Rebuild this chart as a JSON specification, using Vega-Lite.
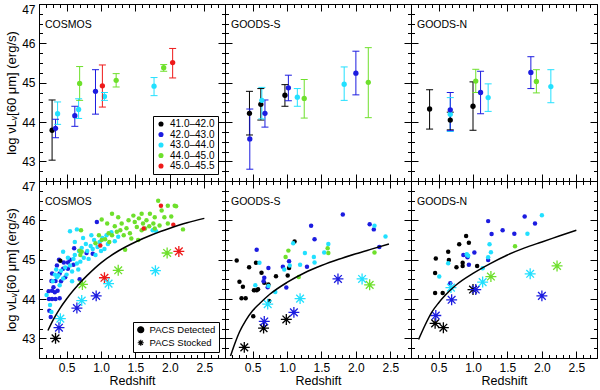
{
"$schema":"https://vega.github.io/schema/vega-lite/v6.json",
"padding":{"left":5,"top":2,"right":2,"bottom":0},
"config":{"font":"Liberation Sans","view":{"stroke":"black","strokeWidth":1},
 "title":{"fontWeight":400,"fontSize":10.5,"color":"black","font":"Liberation Sans"},
 "axis":{"tickSize":-7,"tickColor":"black","tickWidth":1,"domainColor":"black","grid":false,"labelFontSize":12,"labelColor":"black","labelPadding":11,"labelOverlap":false,"labelBound":false,"titleFontWeight":400,"titleFontSize":12.5,"titleColor":"black","titlePadding":1,"labelFont":"Liberation Sans","titleFont":"Liberation Sans"},
 "axisLeft":{"titleFontSize":13,"titlePadding":3},
 "legend":{"labelFont":"Liberation Sans","labelColor":"black"}},
"datasets":{
"top":[
{"p":"COSMOS","b":"41.0–42.0","z":0.29,"y":43.79,"lo":43.03,"hi":44.56},
{"p":"COSMOS","b":"42.0–43.0","z":0.34,"y":43.84,"lo":43.6,"hi":44.07},
{"p":"COSMOS","b":"43.0–44.0","z":0.37,"y":44.21,"lo":43.94,"hi":44.51},
{"p":"COSMOS","b":"42.0–43.0","z":0.62,"y":44.16,"lo":43.89,"hi":44.4},
{"p":"COSMOS","b":"43.0–44.0","z":0.675,"y":44.32,"lo":44.09,"hi":44.59},
{"p":"COSMOS","b":"44.0–45.0","z":0.69,"y":44.98,"lo":44.55,"hi":45.41},
{"p":"COSMOS","b":"42.0–43.0","z":0.92,"y":44.78,"lo":44.2,"hi":45.33},
{"p":"COSMOS","b":"45.0–45.5","z":1.02,"y":44.92,"lo":44.38,"hi":45.45},
{"p":"COSMOS","b":"43.0–44.0","z":1.05,"y":44.65,"lo":44.55,"hi":44.75},
{"p":"COSMOS","b":"44.0–45.0","z":1.22,"y":45.06,"lo":44.89,"hi":45.23},
{"p":"COSMOS","b":"43.0–44.0","z":1.77,"y":44.91,"lo":44.67,"hi":45.13},
{"p":"COSMOS","b":"44.0–45.0","z":1.91,"y":45.38,"lo":45.29,"hi":45.46},
{"p":"COSMOS","b":"45.0–45.5","z":2.04,"y":45.51,"lo":45.12,"hi":45.87},
{"p":"GOODS-S","b":"41.0–42.0","z":0.455,"y":44.22,"lo":43.67,"hi":44.78},
{"p":"GOODS-S","b":"42.0–43.0","z":0.46,"y":43.57,"lo":42.8,"hi":44.33},
{"p":"GOODS-S","b":"41.0–42.0","z":0.62,"y":44.45,"lo":44.05,"hi":44.85},
{"p":"GOODS-S","b":"43.0–44.0","z":0.635,"y":44.55,"lo":44.08,"hi":44.88},
{"p":"GOODS-S","b":"42.0–43.0","z":0.68,"y":44.22,"lo":43.87,"hi":44.56},
{"p":"GOODS-S","b":"41.0–42.0","z":0.97,"y":44.68,"lo":44.4,"hi":44.95},
{"p":"GOODS-S","b":"42.0–43.0","z":1.02,"y":44.87,"lo":44.54,"hi":45.19},
{"p":"GOODS-S","b":"43.0–44.0","z":1.15,"y":44.63,"lo":44.4,"hi":44.85},
{"p":"GOODS-S","b":"44.0–45.0","z":1.25,"y":44.6,"lo":44.1,"hi":45.08},
{"p":"GOODS-S","b":"43.0–44.0","z":1.83,"y":44.96,"lo":44.55,"hi":45.4},
{"p":"GOODS-S","b":"42.0–43.0","z":2.0,"y":45.24,"lo":44.69,"hi":45.8},
{"p":"GOODS-S","b":"44.0–45.0","z":2.18,"y":45.01,"lo":44.11,"hi":45.89},
{"p":"GOODS-N","b":"41.0–42.0","z":0.37,"y":44.33,"lo":43.82,"hi":44.82},
{"p":"GOODS-N","b":"41.0–42.0","z":0.67,"y":44.05,"lo":43.8,"hi":44.25},
{"p":"GOODS-N","b":"43.0–44.0","z":0.67,"y":44.2,"lo":43.76,"hi":44.62},
{"p":"GOODS-N","b":"42.0–43.0","z":0.67,"y":44.31,"lo":43.78,"hi":44.75},
{"p":"GOODS-N","b":"41.0–42.0","z":1.0,"y":44.4,"lo":43.79,"hi":45.02},
{"p":"GOODS-N","b":"44.0–45.0","z":1.04,"y":45.04,"lo":44.75,"hi":45.34},
{"p":"GOODS-N","b":"42.0–43.0","z":1.11,"y":44.75,"lo":44.21,"hi":45.29},
{"p":"GOODS-N","b":"43.0–44.0","z":1.22,"y":44.62,"lo":44.27,"hi":44.97},
{"p":"GOODS-N","b":"42.0–43.0","z":1.84,"y":45.26,"lo":44.85,"hi":45.66},
{"p":"GOODS-N","b":"44.0–45.0","z":1.92,"y":45.03,"lo":44.74,"hi":45.33},
{"p":"GOODS-N","b":"43.0–44.0","z":2.13,"y":44.9,"lo":44.49,"hi":45.33}
],
"det":[
{"p":"COSMOS","b":"42.0–43.0","z":0.27,"y":43.54},{"p":"COSMOS","b":"42.0–43.0","z":0.245,"y":44.0},{"p":"COSMOS","b":"42.0–43.0","z":0.29,"y":44.0},{"p":"COSMOS","b":"42.0–43.0","z":0.34,"y":44.0},{"p":"COSMOS","b":"42.0–43.0","z":0.4,"y":44.02},{"p":"COSMOS","b":"42.0–43.0","z":0.29,"y":44.21},{"p":"COSMOS","b":"42.0–43.0","z":0.33,"y":44.17},{"p":"COSMOS","b":"42.0–43.0","z":0.37,"y":44.21},{"p":"COSMOS","b":"42.0–43.0","z":0.28,"y":44.46},{"p":"COSMOS","b":"42.0–43.0","z":0.34,"y":44.46},{"p":"COSMOS","b":"42.0–43.0","z":0.29,"y":44.65},{"p":"COSMOS","b":"42.0–43.0","z":0.4,"y":44.65},{"p":"COSMOS","b":"42.0–43.0","z":0.45,"y":44.77},{"p":"COSMOS","b":"42.0–43.0","z":0.52,"y":44.77},{"p":"COSMOS","b":"42.0–43.0","z":0.39,"y":45.0},{"p":"COSMOS","b":"42.0–43.0","z":0.46,"y":44.93},{"p":"COSMOS","b":"42.0–43.0","z":0.52,"y":44.93},{"p":"COSMOS","b":"42.0–43.0","z":0.6,"y":44.87},{"p":"COSMOS","b":"42.0–43.0","z":0.69,"y":44.5},{"p":"COSMOS","b":"42.0–43.0","z":0.79,"y":45.17},{"p":"COSMOS","b":"42.0–43.0","z":0.88,"y":45.15},{"p":"COSMOS","b":"42.0–43.0","z":0.94,"y":45.96},{"p":"COSMOS","b":"42.0–43.0","z":0.61,"y":45.29},{"p":"COSMOS","b":"42.0–43.0","z":0.24,"y":44.2},{"p":"COSMOS","b":"42.0–43.0","z":0.31,"y":44.3},{"p":"COSMOS","b":"42.0–43.0","z":0.36,"y":44.85},{"p":"COSMOS","b":"42.0–43.0","z":0.42,"y":44.45},{"p":"COSMOS","b":"42.0–43.0","z":0.25,"y":43.7},{"p":"COSMOS","b":"42.0–43.0","z":0.55,"y":45.0},{"p":"COSMOS","b":"42.0–43.0","z":0.48,"y":44.55},
{"p":"COSMOS","b":"43.0–44.0","z":0.28,"y":43.67},{"p":"COSMOS","b":"43.0–44.0","z":0.26,"y":43.85},{"p":"COSMOS","b":"43.0–44.0","z":0.21,"y":44.1},{"p":"COSMOS","b":"43.0–44.0","z":0.33,"y":44.62},{"p":"COSMOS","b":"43.0–44.0","z":0.36,"y":44.55},{"p":"COSMOS","b":"43.0–44.0","z":0.38,"y":44.6},{"p":"COSMOS","b":"43.0–44.0","z":0.42,"y":44.72},{"p":"COSMOS","b":"43.0–44.0","z":0.45,"y":44.52},{"p":"COSMOS","b":"43.0–44.0","z":0.48,"y":44.8},{"p":"COSMOS","b":"43.0–44.0","z":0.5,"y":44.62},{"p":"COSMOS","b":"43.0–44.0","z":0.52,"y":45.05},{"p":"COSMOS","b":"43.0–44.0","z":0.55,"y":44.85},{"p":"COSMOS","b":"43.0–44.0","z":0.58,"y":44.7},{"p":"COSMOS","b":"43.0–44.0","z":0.6,"y":45.02},{"p":"COSMOS","b":"43.0–44.0","z":0.62,"y":45.12},{"p":"COSMOS","b":"43.0–44.0","z":0.65,"y":44.9},{"p":"COSMOS","b":"43.0–44.0","z":0.67,"y":44.75},{"p":"COSMOS","b":"43.0–44.0","z":0.68,"y":45.22},{"p":"COSMOS","b":"43.0–44.0","z":0.7,"y":44.95},{"p":"COSMOS","b":"43.0–44.0","z":0.72,"y":45.3},{"p":"COSMOS","b":"43.0–44.0","z":0.75,"y":45.05},{"p":"COSMOS","b":"43.0–44.0","z":0.78,"y":45.4},{"p":"COSMOS","b":"43.0–44.0","z":0.8,"y":45.22},{"p":"COSMOS","b":"43.0–44.0","z":0.82,"y":45.02},{"p":"COSMOS","b":"43.0–44.0","z":0.85,"y":45.35},{"p":"COSMOS","b":"43.0–44.0","z":0.88,"y":45.27},{"p":"COSMOS","b":"43.0–44.0","z":0.9,"y":45.5},{"p":"COSMOS","b":"43.0–44.0","z":0.92,"y":45.12},{"p":"COSMOS","b":"43.0–44.0","z":0.95,"y":45.32},{"p":"COSMOS","b":"43.0–44.0","z":0.98,"y":45.45},{"p":"COSMOS","b":"43.0–44.0","z":1.0,"y":45.22},{"p":"COSMOS","b":"43.0–44.0","z":1.02,"y":45.55},{"p":"COSMOS","b":"43.0–44.0","z":1.05,"y":45.27},{"p":"COSMOS","b":"43.0–44.0","z":1.08,"y":45.62},{"p":"COSMOS","b":"43.0–44.0","z":1.1,"y":45.4},{"p":"COSMOS","b":"43.0–44.0","z":1.15,"y":45.7},{"p":"COSMOS","b":"43.0–44.0","z":1.2,"y":45.47},{"p":"COSMOS","b":"43.0–44.0","z":0.55,"y":45.72},{"p":"COSMOS","b":"43.0–44.0","z":0.65,"y":45.77},{"p":"COSMOS","b":"43.0–44.0","z":0.3,"y":44.45},{"p":"COSMOS","b":"43.0–44.0","z":1.75,"y":45.75},{"p":"COSMOS","b":"43.0–44.0","z":1.8,"y":45.72},{"p":"COSMOS","b":"43.0–44.0","z":0.4,"y":44.35},{"p":"COSMOS","b":"43.0–44.0","z":0.58,"y":44.45},{"p":"COSMOS","b":"43.0–44.0","z":0.45,"y":45.2},{"p":"COSMOS","b":"43.0–44.0","z":0.62,"y":45.45},{"p":"COSMOS","b":"43.0–44.0","z":0.74,"y":45.55},{"p":"COSMOS","b":"43.0–44.0","z":0.86,"y":45.62},{"p":"COSMOS","b":"43.0–44.0","z":1.25,"y":45.58},{"p":"COSMOS","b":"43.0–44.0","z":0.35,"y":44.75},
{"p":"COSMOS","b":"44.0–45.0","z":0.71,"y":45.75},{"p":"COSMOS","b":"44.0–45.0","z":0.69,"y":45.23},{"p":"COSMOS","b":"44.0–45.0","z":0.72,"y":45.2},{"p":"COSMOS","b":"44.0–45.0","z":0.7,"y":45.12},{"p":"COSMOS","b":"44.0–45.0","z":1.01,"y":46.02},{"p":"COSMOS","b":"44.0–45.0","z":1.06,"y":45.52},{"p":"COSMOS","b":"44.0–45.0","z":1.11,"y":45.67},{"p":"COSMOS","b":"44.0–45.0","z":1.16,"y":45.62},{"p":"COSMOS","b":"44.0–45.0","z":1.23,"y":45.71},{"p":"COSMOS","b":"44.0–45.0","z":1.28,"y":45.75},{"p":"COSMOS","b":"44.0–45.0","z":1.3,"y":45.92},{"p":"COSMOS","b":"44.0–45.0","z":1.33,"y":45.62},{"p":"COSMOS","b":"44.0–45.0","z":1.35,"y":45.25},{"p":"COSMOS","b":"44.0–45.0","z":1.4,"y":46.0},{"p":"COSMOS","b":"44.0–45.0","z":1.42,"y":45.67},{"p":"COSMOS","b":"44.0–45.0","z":1.47,"y":46.12},{"p":"COSMOS","b":"44.0–45.0","z":1.49,"y":45.96},{"p":"COSMOS","b":"44.0–45.0","z":1.52,"y":45.83},{"p":"COSMOS","b":"44.0–45.0","z":1.54,"y":45.5},{"p":"COSMOS","b":"44.0–45.0","z":1.59,"y":46.17},{"p":"COSMOS","b":"44.0–45.0","z":1.61,"y":45.92},{"p":"COSMOS","b":"44.0–45.0","z":1.64,"y":45.79},{"p":"COSMOS","b":"44.0–45.0","z":1.66,"y":46.0},{"p":"COSMOS","b":"44.0–45.0","z":1.71,"y":46.17},{"p":"COSMOS","b":"44.0–45.0","z":1.76,"y":45.92},{"p":"COSMOS","b":"44.0–45.0","z":1.78,"y":45.79},{"p":"COSMOS","b":"44.0–45.0","z":1.83,"y":46.5},{"p":"COSMOS","b":"44.0–45.0","z":1.88,"y":46.25},{"p":"COSMOS","b":"44.0–45.0","z":1.92,"y":46.08},{"p":"COSMOS","b":"44.0–45.0","z":1.97,"y":46.37},{"p":"COSMOS","b":"44.0–45.0","z":2.07,"y":46.37},{"p":"COSMOS","b":"44.0–45.0","z":2.09,"y":46.36},{"p":"COSMOS","b":"44.0–45.0","z":2.19,"y":45.77},{"p":"COSMOS","b":"44.0–45.0","z":1.16,"y":46.17},{"p":"COSMOS","b":"44.0–45.0","z":1.25,"y":46.08},{"p":"COSMOS","b":"44.0–45.0","z":0.97,"y":45.62},{"p":"COSMOS","b":"44.0–45.0","z":1.01,"y":45.5},{"p":"COSMOS","b":"44.0–45.0","z":0.92,"y":45.42},{"p":"COSMOS","b":"44.0–45.0","z":1.09,"y":45.92},{"p":"COSMOS","b":"44.0–45.0","z":1.59,"y":45.75},{"p":"COSMOS","b":"44.0–45.0","z":1.44,"y":45.54},{"p":"COSMOS","b":"44.0–45.0","z":1.78,"y":46.08},{"p":"COSMOS","b":"44.0–45.0","z":1.85,"y":45.87},{"p":"COSMOS","b":"44.0–45.0","z":1.97,"y":45.92},{"p":"COSMOS","b":"44.0–45.0","z":1.2,"y":45.85},{"p":"COSMOS","b":"44.0–45.0","z":1.37,"y":45.8},{"p":"COSMOS","b":"44.0–45.0","z":1.55,"y":46.05},{"p":"COSMOS","b":"44.0–45.0","z":1.7,"y":45.85},{"p":"COSMOS","b":"44.0–45.0","z":2.02,"y":46.1},{"p":"COSMOS","b":"44.0–45.0","z":1.12,"y":45.45},
{"p":"COSMOS","b":"45.0–45.5","z":0.99,"y":45.36},{"p":"COSMOS","b":"45.0–45.5","z":1.62,"y":45.79},{"p":"COSMOS","b":"45.0–45.5","z":1.87,"y":46.37},{"p":"COSMOS","b":"45.0–45.5","z":2.05,"y":45.89},
{"p":"COSMOS","b":"41.0–42.0","z":0.41,"y":44.97},
{"p":"GOODS-S","b":"41.0–42.0","z":0.27,"y":44.98},{"p":"GOODS-S","b":"41.0–42.0","z":0.31,"y":44.44},{"p":"GOODS-S","b":"41.0–42.0","z":0.34,"y":44.02},{"p":"GOODS-S","b":"41.0–42.0","z":0.36,"y":44.31},{"p":"GOODS-S","b":"41.0–42.0","z":0.4,"y":44.02},{"p":"GOODS-S","b":"41.0–42.0","z":0.45,"y":44.81},{"p":"GOODS-S","b":"41.0–42.0","z":0.51,"y":43.56},{"p":"GOODS-S","b":"41.0–42.0","z":0.52,"y":44.22},{"p":"GOODS-S","b":"41.0–42.0","z":0.55,"y":44.92},{"p":"GOODS-S","b":"41.0–42.0","z":0.56,"y":44.22},{"p":"GOODS-S","b":"41.0–42.0","z":0.58,"y":44.25},{"p":"GOODS-S","b":"41.0–42.0","z":0.63,"y":44.67},{"p":"GOODS-S","b":"41.0–42.0","z":0.67,"y":44.41},{"p":"GOODS-S","b":"41.0–42.0","z":0.73,"y":44.37},{"p":"GOODS-S","b":"41.0–42.0","z":0.74,"y":43.95},{"p":"GOODS-S","b":"41.0–42.0","z":0.84,"y":44.58},{"p":"GOODS-S","b":"41.0–42.0","z":1.01,"y":44.6},{"p":"GOODS-S","b":"41.0–42.0","z":1.03,"y":44.79},{"p":"GOODS-S","b":"41.0–42.0","z":1.11,"y":45.46},
{"p":"GOODS-S","b":"42.0–43.0","z":0.56,"y":45.25},{"p":"GOODS-S","b":"42.0–43.0","z":0.67,"y":44.54},{"p":"GOODS-S","b":"42.0–43.0","z":0.73,"y":44.79},{"p":"GOODS-S","b":"42.0–43.0","z":0.94,"y":44.82},{"p":"GOODS-S","b":"42.0–43.0","z":1.03,"y":44.96},{"p":"GOODS-S","b":"42.0–43.0","z":0.99,"y":44.29},{"p":"GOODS-S","b":"42.0–43.0","z":1.29,"y":44.82},{"p":"GOODS-S","b":"42.0–43.0","z":1.35,"y":45.86},{"p":"GOODS-S","b":"42.0–43.0","z":1.4,"y":45.52},{"p":"GOODS-S","b":"42.0–43.0","z":1.81,"y":46.15},{"p":"GOODS-S","b":"42.0–43.0","z":2.2,"y":45.9},{"p":"GOODS-S","b":"42.0–43.0","z":2.26,"y":45.77},{"p":"GOODS-S","b":"42.0–43.0","z":2.34,"y":45.32},{"p":"GOODS-S","b":"42.0–43.0","z":0.72,"y":44.3},{"p":"GOODS-S","b":"42.0–43.0","z":0.66,"y":44.45},
{"p":"GOODS-S","b":"43.0–44.0","z":0.6,"y":44.92},{"p":"GOODS-S","b":"43.0–44.0","z":0.54,"y":44.35},{"p":"GOODS-S","b":"43.0–44.0","z":0.73,"y":44.33},{"p":"GOODS-S","b":"43.0–44.0","z":0.83,"y":44.18},{"p":"GOODS-S","b":"43.0–44.0","z":0.96,"y":44.75},{"p":"GOODS-S","b":"43.0–44.0","z":1.04,"y":44.85},{"p":"GOODS-S","b":"43.0–44.0","z":1.09,"y":45.42},{"p":"GOODS-S","b":"43.0–44.0","z":1.19,"y":44.87},{"p":"GOODS-S","b":"43.0–44.0","z":1.26,"y":45.17},{"p":"GOODS-S","b":"43.0–44.0","z":1.39,"y":45.07},{"p":"GOODS-S","b":"43.0–44.0","z":1.4,"y":44.93},{"p":"GOODS-S","b":"43.0–44.0","z":1.54,"y":45.18},{"p":"GOODS-S","b":"43.0–44.0","z":1.6,"y":45.4},{"p":"GOODS-S","b":"43.0–44.0","z":2.27,"y":45.86},{"p":"GOODS-S","b":"43.0–44.0","z":2.43,"y":45.59},
{"p":"GOODS-S","b":"44.0–45.0","z":1.02,"y":45.23},{"p":"GOODS-S","b":"44.0–45.0","z":0.98,"y":45.07},{"p":"GOODS-S","b":"44.0–45.0","z":1.17,"y":44.56},{"p":"GOODS-S","b":"44.0–45.0","z":1.59,"y":45.29},{"p":"GOODS-S","b":"44.0–45.0","z":1.6,"y":45.17},{"p":"GOODS-S","b":"44.0–45.0","z":2.27,"y":45.18},
{"p":"GOODS-N","b":"41.0–42.0","z":0.45,"y":44.66},{"p":"GOODS-N","b":"41.0–42.0","z":0.45,"y":44.15},{"p":"GOODS-N","b":"41.0–42.0","z":0.46,"y":45.03},{"p":"GOODS-N","b":"41.0–42.0","z":0.56,"y":44.15},{"p":"GOODS-N","b":"41.0–42.0","z":0.64,"y":45.2},{"p":"GOODS-N","b":"41.0–42.0","z":0.65,"y":44.99},{"p":"GOODS-N","b":"41.0–42.0","z":0.76,"y":44.81},{"p":"GOODS-N","b":"41.0–42.0","z":0.8,"y":45.39},{"p":"GOODS-N","b":"41.0–42.0","z":0.85,"y":44.92},{"p":"GOODS-N","b":"41.0–42.0","z":0.85,"y":44.84},{"p":"GOODS-N","b":"41.0–42.0","z":0.9,"y":45.6},{"p":"GOODS-N","b":"41.0–42.0","z":0.94,"y":45.43},{"p":"GOODS-N","b":"41.0–42.0","z":1.06,"y":44.84},
{"p":"GOODS-N","b":"42.0–43.0","z":0.67,"y":44.4},{"p":"GOODS-N","b":"42.0–43.0","z":0.86,"y":45.12},{"p":"GOODS-N","b":"42.0–43.0","z":0.92,"y":45.06},{"p":"GOODS-N","b":"42.0–43.0","z":0.94,"y":44.87},{"p":"GOODS-N","b":"42.0–43.0","z":1.02,"y":45.18},{"p":"GOODS-N","b":"42.0–43.0","z":1.22,"y":45.98},{"p":"GOODS-N","b":"42.0–43.0","z":1.27,"y":45.65},{"p":"GOODS-N","b":"42.0–43.0","z":1.43,"y":45.75},{"p":"GOODS-N","b":"42.0–43.0","z":1.6,"y":45.66},{"p":"GOODS-N","b":"42.0–43.0","z":1.75,"y":46.1},{"p":"GOODS-N","b":"42.0–43.0","z":1.9,"y":45.92},{"p":"GOODS-N","b":"42.0–43.0","z":1.22,"y":44.99},
{"p":"GOODS-N","b":"43.0–44.0","z":0.51,"y":44.57},{"p":"GOODS-N","b":"43.0–44.0","z":0.64,"y":44.91},{"p":"GOODS-N","b":"43.0–44.0","z":0.91,"y":45.14},{"p":"GOODS-N","b":"43.0–44.0","z":1.14,"y":44.78},{"p":"GOODS-N","b":"43.0–44.0","z":1.24,"y":45.39},{"p":"GOODS-N","b":"43.0–44.0","z":1.26,"y":45.19},{"p":"GOODS-N","b":"43.0–44.0","z":1.22,"y":45.06},{"p":"GOODS-N","b":"43.0–44.0","z":1.79,"y":45.66},{"p":"GOODS-N","b":"43.0–44.0","z":2.0,"y":46.13},{"p":"GOODS-N","b":"43.0–44.0","z":0.93,"y":45.1},
{"p":"GOODS-N","b":"44.0–45.0","z":1.61,"y":45.34}
],
"stk":[
{"p":"COSMOS","b":"41.0–42.0","z":0.34,"y":43.0},{"p":"COSMOS","b":"42.0–43.0","z":0.39,"y":43.27},{"p":"COSMOS","b":"43.0–44.0","z":0.41,"y":43.5},{"p":"COSMOS","b":"42.0–43.0","z":0.65,"y":43.77},{"p":"COSMOS","b":"43.0–44.0","z":0.72,"y":43.96},{"p":"COSMOS","b":"44.0–45.0","z":0.73,"y":44.37},{"p":"COSMOS","b":"42.0–43.0","z":0.93,"y":44.08},{"p":"COSMOS","b":"45.0–45.5","z":1.05,"y":44.54},{"p":"COSMOS","b":"43.0–44.0","z":1.11,"y":44.39},{"p":"COSMOS","b":"44.0–45.0","z":1.25,"y":44.73},{"p":"COSMOS","b":"43.0–44.0","z":1.79,"y":44.72},{"p":"COSMOS","b":"44.0–45.0","z":1.96,"y":45.17},{"p":"COSMOS","b":"45.0–45.5","z":2.13,"y":45.21},
{"p":"GOODS-S","b":"41.0–42.0","z":0.38,"y":42.77},{"p":"GOODS-S","b":"41.0–42.0","z":0.66,"y":43.26},{"p":"GOODS-S","b":"42.0–43.0","z":0.67,"y":43.43},{"p":"GOODS-S","b":"41.0–42.0","z":0.99,"y":43.48},{"p":"GOODS-S","b":"43.0–44.0","z":0.72,"y":43.87},{"p":"GOODS-S","b":"42.0–43.0","z":1.1,"y":43.66},{"p":"GOODS-S","b":"43.0–44.0","z":1.19,"y":44.01},{"p":"GOODS-S","b":"42.0–43.0","z":1.74,"y":44.51},{"p":"GOODS-S","b":"43.0–44.0","z":2.09,"y":44.51},{"p":"GOODS-S","b":"44.0–45.0","z":2.2,"y":44.36},
{"p":"GOODS-N","b":"41.0–42.0","z":0.45,"y":43.38},{"p":"GOODS-N","b":"41.0–42.0","z":0.57,"y":43.27},{"p":"GOODS-N","b":"42.0–43.0","z":0.46,"y":43.58},{"p":"GOODS-N","b":"42.0–43.0","z":0.69,"y":43.98},{"p":"GOODS-N","b":"43.0–44.0","z":0.68,"y":44.29},{"p":"GOODS-N","b":"41.0–42.0","z":1.0,"y":44.24},{"p":"GOODS-N","b":"42.0–43.0","z":1.04,"y":44.24},{"p":"GOODS-N","b":"43.0–44.0","z":1.14,"y":44.43},{"p":"GOODS-N","b":"44.0–45.0","z":1.26,"y":44.57},{"p":"GOODS-N","b":"43.0–44.0","z":1.83,"y":44.64},{"p":"GOODS-N","b":"44.0–45.0","z":2.22,"y":44.84},{"p":"GOODS-N","b":"42.0–43.0","z":2.0,"y":44.08}
],
"curve":[
{"p":"COSMOS","z":0.23,"y":43.2},{"p":"COSMOS","z":0.3,"y":43.45},{"p":"COSMOS","z":0.4,"y":43.75},{"p":"COSMOS","z":0.5,"y":44.0},{"p":"COSMOS","z":0.6,"y":44.22},{"p":"COSMOS","z":0.7,"y":44.42},{"p":"COSMOS","z":0.8,"y":44.6},{"p":"COSMOS","z":1.0,"y":44.92},{"p":"COSMOS","z":1.25,"y":45.22},{"p":"COSMOS","z":1.5,"y":45.45},{"p":"COSMOS","z":1.75,"y":45.64},{"p":"COSMOS","z":2.0,"y":45.8},{"p":"COSMOS","z":2.25,"y":45.94},{"p":"COSMOS","z":2.5,"y":46.05},
{"p":"GOODS-S","z":0.18,"y":42.55},{"p":"GOODS-S","z":0.25,"y":42.9},{"p":"GOODS-S","z":0.31,"y":43.16},{"p":"GOODS-S","z":0.4,"y":43.45},{"p":"GOODS-S","z":0.5,"y":43.7},{"p":"GOODS-S","z":0.6,"y":43.88},{"p":"GOODS-S","z":0.75,"y":44.12},{"p":"GOODS-S","z":1.0,"y":44.42},{"p":"GOODS-S","z":1.25,"y":44.66},{"p":"GOODS-S","z":1.5,"y":44.85},{"p":"GOODS-S","z":1.75,"y":45.01},{"p":"GOODS-S","z":2.0,"y":45.15},{"p":"GOODS-S","z":2.25,"y":45.28},{"p":"GOODS-S","z":2.48,"y":45.4},
{"p":"GOODS-N","z":0.21,"y":42.97},{"p":"GOODS-N","z":0.3,"y":43.32},{"p":"GOODS-N","z":0.4,"y":43.66},{"p":"GOODS-N","z":0.5,"y":43.9},{"p":"GOODS-N","z":0.6,"y":44.1},{"p":"GOODS-N","z":0.75,"y":44.35},{"p":"GOODS-N","z":1.0,"y":44.65},{"p":"GOODS-N","z":1.25,"y":44.9},{"p":"GOODS-N","z":1.5,"y":45.12},{"p":"GOODS-N","z":1.75,"y":45.3},{"p":"GOODS-N","z":2.0,"y":45.45},{"p":"GOODS-N","z":2.25,"y":45.6},{"p":"GOODS-N","z":2.5,"y":45.75}
]
},
"columns":3,
"spacing":0,
"bounds":"flush",
"resolve":{"scale":{"color":"independent","shape":"independent"},"legend":{"color":"independent","shape":"independent"}},
"concat":[
{"width":186,"height":177,
 "title":{"text":"COSMOS","anchor":"start","frame":"group","offset":-27,"dx":6,"fontSize":10.5,"fontWeight":400,"color":"black"},
 "data":{"name":"top"},"transform":[{"filter":"datum.p=='COSMOS'"}],
 "resolve":{"axis":{"x":"independent","y":"independent"}},
 "layer":[
  {"mark":{"type":"point","filled":true,"size":28,"opacity":1,"shape":"circle"},
   "encoding":{
    "x":{"field":"z","type":"quantitative","scale":{"domain":[0.1,2.8],"nice":false,"zero":false},"axis":null},
    "y":{"field":"y","type":"quantitative","scale":{"domain":[42.5,47],"nice":false,"zero":false},"axis":null},
    "color":{"field":"b","type":"nominal","scale":{"domain":["41.0–42.0","42.0–43.0","43.0–44.0","44.0–45.0","45.0–45.5"],"range":["#000000","#1c1ce0","#22e0ff","#6ee02c","#ee1a1a"]},"legend":{"title":null,"orient":"bottom-right","offset":7,"strokeColor":"black","fillColor":"white","padding":3,"labelFontSize":10,"symbolSize":26,"symbolType":"circle","symbolStrokeWidth":0,"rowPadding":0.5,"labelOffset":4}}}},
  {"mark":{"type":"rule","strokeWidth":1},
   "encoding":{
    "x":{"field":"z","type":"quantitative","scale":{"domain":[0.1,2.8],"nice":false,"zero":false},"axis":{"orient":"bottom","values":[0.2,0.3,0.4,0.5,0.6,0.7,0.8,0.9,1.0,1.1,1.2,1.3,1.4,1.5,1.6,1.7,1.8,1.9,2.0,2.1,2.2,2.3,2.4,2.5,2.6,2.7],"tickDash":{"condition":{"test":"abs(datum.value*2-round(datum.value*2))<0.01","value":[]},"value":[3.5,20]},"labels":false,"title":null}},
    "y":{"field":"lo","type":"quantitative","scale":{"domain":[42.5,47],"nice":false,"zero":false},"axis":{"orient":"left","values":[42.75,43,43.25,43.5,43.75,44,44.25,44.5,44.75,45,45.25,45.5,45.75,46,46.25,46.5,46.75,47],"tickDash":{"condition":{"test":"abs(datum.value-round(datum.value))<0.01","value":[]},"value":[3.5,20]},"labelExpr":"abs(datum.value-round(datum.value))<0.01 ? format(datum.value,'d') : ''","labelFlush":true,"title":"log νLᵥ[60 μm] (erg/s)"}},
    "y2":{"field":"hi"},
    "color":{"field":"b","type":"nominal","scale":{"domain":["41.0–42.0","42.0–43.0","43.0–44.0","44.0–45.0","45.0–45.5"],"range":["#000000","#1c1ce0","#22e0ff","#6ee02c","#ee1a1a"]}}}},
  {"mark":{"type":"tick","orient":"horizontal","size":7,"thickness":1,"opacity":1},
   "encoding":{
    "x":{"field":"z","type":"quantitative","scale":{"domain":[0.1,2.8],"nice":false,"zero":false},"axis":{"orient":"top","values":[0.2,0.3,0.4,0.5,0.6,0.7,0.8,0.9,1.0,1.1,1.2,1.3,1.4,1.5,1.6,1.7,1.8,1.9,2.0,2.1,2.2,2.3,2.4,2.5,2.6,2.7],"tickDash":{"condition":{"test":"abs(datum.value*2-round(datum.value*2))<0.01","value":[]},"value":[3.5,20]},"labels":false,"title":null}},
    "y":{"field":"lo","type":"quantitative","scale":{"domain":[42.5,47],"nice":false,"zero":false},"axis":{"orient":"right","values":[42.75,43,43.25,43.5,43.75,44,44.25,44.5,44.75,45,45.25,45.5,45.75,46,46.25,46.5,46.75,47],"tickDash":{"condition":{"test":"abs(datum.value-round(datum.value))<0.01","value":[]},"value":[3.5,20]},"labels":false,"title":null}},
    "color":{"field":"b","type":"nominal","scale":{"domain":["41.0–42.0","42.0–43.0","43.0–44.0","44.0–45.0","45.0–45.5"],"range":["#000000","#1c1ce0","#22e0ff","#6ee02c","#ee1a1a"]}}}},
  {"mark":{"type":"tick","orient":"horizontal","size":7,"thickness":1,"opacity":1},
   "encoding":{
    "x":{"field":"z","type":"quantitative","scale":{"domain":[0.1,2.8],"nice":false,"zero":false},"axis":null},
    "y":{"field":"hi","type":"quantitative","scale":{"domain":[42.5,47],"nice":false,"zero":false},"axis":null},
    "color":{"field":"b","type":"nominal","scale":{"domain":["41.0–42.0","42.0–43.0","43.0–44.0","44.0–45.0","45.0–45.5"],"range":["#000000","#1c1ce0","#22e0ff","#6ee02c","#ee1a1a"]}}}}
 ]},
{"width":186,"height":177,
 "title":{"text":"GOODS-S","anchor":"start","frame":"group","offset":-27,"dx":6,"fontSize":10.5,"fontWeight":400,"color":"black"},
 "data":{"name":"top"},"transform":[{"filter":"datum.p=='GOODS-S'"}],
 "resolve":{"axis":{"x":"independent","y":"independent"}},
 "layer":[
  {"mark":{"type":"rule","strokeWidth":1},
   "encoding":{
    "x":{"field":"z","type":"quantitative","scale":{"domain":[0.1,2.8],"nice":false,"zero":false},"axis":{"orient":"bottom","values":[0.2,0.3,0.4,0.5,0.6,0.7,0.8,0.9,1.0,1.1,1.2,1.3,1.4,1.5,1.6,1.7,1.8,1.9,2.0,2.1,2.2,2.3,2.4,2.5,2.6,2.7],"tickDash":{"condition":{"test":"abs(datum.value*2-round(datum.value*2))<0.01","value":[]},"value":[3.5,20]},"labels":false,"title":null}},
    "y":{"field":"lo","type":"quantitative","scale":{"domain":[42.5,47],"nice":false,"zero":false},"axis":{"orient":"left","values":[42.75,43,43.25,43.5,43.75,44,44.25,44.5,44.75,45,45.25,45.5,45.75,46,46.25,46.5,46.75,47],"tickDash":{"condition":{"test":"abs(datum.value-round(datum.value))<0.01","value":[]},"value":[3.5,20]},"labels":false,"title":null}},
    "y2":{"field":"hi"},
    "color":{"field":"b","type":"nominal","scale":{"domain":["41.0–42.0","42.0–43.0","43.0–44.0","44.0–45.0","45.0–45.5"],"range":["#000000","#1c1ce0","#22e0ff","#6ee02c","#ee1a1a"]},"legend":null}}},
  {"mark":{"type":"tick","orient":"horizontal","size":7,"thickness":1,"opacity":1},
   "encoding":{
    "x":{"field":"z","type":"quantitative","scale":{"domain":[0.1,2.8],"nice":false,"zero":false},"axis":{"orient":"top","values":[0.2,0.3,0.4,0.5,0.6,0.7,0.8,0.9,1.0,1.1,1.2,1.3,1.4,1.5,1.6,1.7,1.8,1.9,2.0,2.1,2.2,2.3,2.4,2.5,2.6,2.7],"tickDash":{"condition":{"test":"abs(datum.value*2-round(datum.value*2))<0.01","value":[]},"value":[3.5,20]},"labels":false,"title":null}},
    "y":{"field":"lo","type":"quantitative","scale":{"domain":[42.5,47],"nice":false,"zero":false},"axis":{"orient":"right","values":[42.75,43,43.25,43.5,43.75,44,44.25,44.5,44.75,45,45.25,45.5,45.75,46,46.25,46.5,46.75,47],"tickDash":{"condition":{"test":"abs(datum.value-round(datum.value))<0.01","value":[]},"value":[3.5,20]},"labels":false,"title":null}},
    "color":{"field":"b","type":"nominal","scale":{"domain":["41.0–42.0","42.0–43.0","43.0–44.0","44.0–45.0","45.0–45.5"],"range":["#000000","#1c1ce0","#22e0ff","#6ee02c","#ee1a1a"]},"legend":null}}},
  {"mark":{"type":"tick","orient":"horizontal","size":7,"thickness":1,"opacity":1},
   "encoding":{
    "x":{"field":"z","type":"quantitative","scale":{"domain":[0.1,2.8],"nice":false,"zero":false},"axis":null},
    "y":{"field":"hi","type":"quantitative","scale":{"domain":[42.5,47],"nice":false,"zero":false},"axis":null},
    "color":{"field":"b","type":"nominal","scale":{"domain":["41.0–42.0","42.0–43.0","43.0–44.0","44.0–45.0","45.0–45.5"],"range":["#000000","#1c1ce0","#22e0ff","#6ee02c","#ee1a1a"]},"legend":null}}},
  {"mark":{"type":"point","filled":true,"size":28,"opacity":1,"shape":"circle"},
   "encoding":{
    "x":{"field":"z","type":"quantitative","scale":{"domain":[0.1,2.8],"nice":false,"zero":false},"axis":null},
    "y":{"field":"y","type":"quantitative","scale":{"domain":[42.5,47],"nice":false,"zero":false},"axis":null},
    "color":{"field":"b","type":"nominal","scale":{"domain":["41.0–42.0","42.0–43.0","43.0–44.0","44.0–45.0","45.0–45.5"],"range":["#000000","#1c1ce0","#22e0ff","#6ee02c","#ee1a1a"]},"legend":null}}}
 ]},
{"width":186,"height":177,
 "title":{"text":"GOODS-N","anchor":"start","frame":"group","offset":-27,"dx":6,"fontSize":10.5,"fontWeight":400,"color":"black"},
 "data":{"name":"top"},"transform":[{"filter":"datum.p=='GOODS-N'"}],
 "resolve":{"axis":{"x":"independent","y":"independent"}},
 "layer":[
  {"mark":{"type":"rule","strokeWidth":1},
   "encoding":{
    "x":{"field":"z","type":"quantitative","scale":{"domain":[0.1,2.8],"nice":false,"zero":false},"axis":{"orient":"bottom","values":[0.2,0.3,0.4,0.5,0.6,0.7,0.8,0.9,1.0,1.1,1.2,1.3,1.4,1.5,1.6,1.7,1.8,1.9,2.0,2.1,2.2,2.3,2.4,2.5,2.6,2.7],"tickDash":{"condition":{"test":"abs(datum.value*2-round(datum.value*2))<0.01","value":[]},"value":[3.5,20]},"labels":false,"title":null}},
    "y":{"field":"lo","type":"quantitative","scale":{"domain":[42.5,47],"nice":false,"zero":false},"axis":{"orient":"left","values":[42.75,43,43.25,43.5,43.75,44,44.25,44.5,44.75,45,45.25,45.5,45.75,46,46.25,46.5,46.75,47],"tickDash":{"condition":{"test":"abs(datum.value-round(datum.value))<0.01","value":[]},"value":[3.5,20]},"labels":false,"title":null}},
    "y2":{"field":"hi"},
    "color":{"field":"b","type":"nominal","scale":{"domain":["41.0–42.0","42.0–43.0","43.0–44.0","44.0–45.0","45.0–45.5"],"range":["#000000","#1c1ce0","#22e0ff","#6ee02c","#ee1a1a"]},"legend":null}}},
  {"mark":{"type":"tick","orient":"horizontal","size":7,"thickness":1,"opacity":1},
   "encoding":{
    "x":{"field":"z","type":"quantitative","scale":{"domain":[0.1,2.8],"nice":false,"zero":false},"axis":{"orient":"top","values":[0.2,0.3,0.4,0.5,0.6,0.7,0.8,0.9,1.0,1.1,1.2,1.3,1.4,1.5,1.6,1.7,1.8,1.9,2.0,2.1,2.2,2.3,2.4,2.5,2.6,2.7],"tickDash":{"condition":{"test":"abs(datum.value*2-round(datum.value*2))<0.01","value":[]},"value":[3.5,20]},"labels":false,"title":null}},
    "y":{"field":"lo","type":"quantitative","scale":{"domain":[42.5,47],"nice":false,"zero":false},"axis":{"orient":"right","values":[42.75,43,43.25,43.5,43.75,44,44.25,44.5,44.75,45,45.25,45.5,45.75,46,46.25,46.5,46.75,47],"tickDash":{"condition":{"test":"abs(datum.value-round(datum.value))<0.01","value":[]},"value":[3.5,20]},"labels":false,"title":null}},
    "color":{"field":"b","type":"nominal","scale":{"domain":["41.0–42.0","42.0–43.0","43.0–44.0","44.0–45.0","45.0–45.5"],"range":["#000000","#1c1ce0","#22e0ff","#6ee02c","#ee1a1a"]},"legend":null}}},
  {"mark":{"type":"tick","orient":"horizontal","size":7,"thickness":1,"opacity":1},
   "encoding":{
    "x":{"field":"z","type":"quantitative","scale":{"domain":[0.1,2.8],"nice":false,"zero":false},"axis":null},
    "y":{"field":"hi","type":"quantitative","scale":{"domain":[42.5,47],"nice":false,"zero":false},"axis":null},
    "color":{"field":"b","type":"nominal","scale":{"domain":["41.0–42.0","42.0–43.0","43.0–44.0","44.0–45.0","45.0–45.5"],"range":["#000000","#1c1ce0","#22e0ff","#6ee02c","#ee1a1a"]},"legend":null}}},
  {"mark":{"type":"point","filled":true,"size":28,"opacity":1,"shape":"circle"},
   "encoding":{
    "x":{"field":"z","type":"quantitative","scale":{"domain":[0.1,2.8],"nice":false,"zero":false},"axis":null},
    "y":{"field":"y","type":"quantitative","scale":{"domain":[42.5,47],"nice":false,"zero":false},"axis":null},
    "color":{"field":"b","type":"nominal","scale":{"domain":["41.0–42.0","42.0–43.0","43.0–44.0","44.0–45.0","45.0–45.5"],"range":["#000000","#1c1ce0","#22e0ff","#6ee02c","#ee1a1a"]},"legend":null}}}
 ]},
{"width":186,"height":177,
 "title":{"text":"COSMOS","anchor":"start","frame":"group","offset":-27,"dx":6,"fontSize":10.5,"fontWeight":400,"color":"black"},
 "resolve":{"axis":{"x":"independent","y":"independent"},"scale":{"color":"independent"},"legend":{"color":"independent"}},
 "layer":[
  {"data":{"name":"det"},"transform":[{"filter":"datum.p=='COSMOS'"}],
   "mark":{"type":"point","filled":true,"size":20,"opacity":1,"shape":"circle"},
   "encoding":{
    "x":{"field":"z","type":"quantitative","scale":{"domain":[0.1,2.8],"nice":false,"zero":false},"axis":{"orient":"bottom","values":[0.2,0.3,0.4,0.5,0.6,0.7,0.8,0.9,1.0,1.1,1.2,1.3,1.4,1.5,1.6,1.7,1.8,1.9,2.0,2.1,2.2,2.3,2.4,2.5,2.6,2.7],"tickDash":{"condition":{"test":"abs(datum.value*2-round(datum.value*2))<0.01","value":[]},"value":[3.5,20]},"labelExpr":"abs(datum.value*2-round(datum.value*2))<0.01 ? format(datum.value,'.1f') : ''","labelFlush":false,"title":"Redshift"}},
    "y":{"field":"y","type":"quantitative","scale":{"domain":[42.5,47],"nice":false,"zero":false},"axis":{"orient":"left","values":[42.75,43,43.25,43.5,43.75,44,44.25,44.5,44.75,45,45.25,45.5,45.75,46,46.25,46.5,46.75,47],"tickDash":{"condition":{"test":"abs(datum.value-round(datum.value))<0.01","value":[]},"value":[3.5,20]},"labelExpr":"abs(datum.value-round(datum.value))<0.01 ? format(datum.value,'d') : ''","labelFlush":true,"title":"log νLᵥ[60 μm] (erg/s)"}},
    "color":{"field":"b","type":"nominal","scale":{"domain":["41.0–42.0","42.0–43.0","43.0–44.0","44.0–45.0","45.0–45.5"],"range":["#000000","#1c1ce0","#22e0ff","#6ee02c","#ee1a1a"]},"legend":null},
    "shape":{"datum":"PACS Detected","type":"nominal","scale":{"domain":["PACS Detected","PACS Stocked"],"range":["circle","M-1,0L1,0M0,-1L0,1M-0.7,-0.7L0.7,0.7M-0.7,0.7L0.7,-0.7"]},"legend":{"title":null,"orient":"bottom-right","offset":6,"strokeColor":"black","fillColor":"white","padding":3,"labelFontSize":9.5,"symbolSize":36,"symbolFillColor":"black","symbolStrokeColor":"black","symbolStrokeWidth":1.2,"rowPadding":1}}}},
  {"data":{"name":"stk"},"transform":[{"filter":"datum.p=='COSMOS'"}],
   "mark":{"type":"point","filled":false,"size":120,"strokeWidth":1.3,"opacity":1,"shape":"M-1,0L1,0M0,-1L0,1M-0.7,-0.7L0.7,0.7M-0.7,0.7L0.7,-0.7"},
   "encoding":{
    "x":{"field":"z","type":"quantitative","scale":{"domain":[0.1,2.8],"nice":false,"zero":false},"axis":{"orient":"top","values":[0.2,0.3,0.4,0.5,0.6,0.7,0.8,0.9,1.0,1.1,1.2,1.3,1.4,1.5,1.6,1.7,1.8,1.9,2.0,2.1,2.2,2.3,2.4,2.5,2.6,2.7],"tickDash":{"condition":{"test":"abs(datum.value*2-round(datum.value*2))<0.01","value":[]},"value":[3.5,20]},"labels":false,"title":null}},
    "y":{"field":"y","type":"quantitative","scale":{"domain":[42.5,47],"nice":false,"zero":false},"axis":{"orient":"right","values":[42.75,43,43.25,43.5,43.75,44,44.25,44.5,44.75,45,45.25,45.5,45.75,46,46.25,46.5,46.75,47],"tickDash":{"condition":{"test":"abs(datum.value-round(datum.value))<0.01","value":[]},"value":[3.5,20]},"labels":false,"title":null}},
    "color":{"field":"b","type":"nominal","scale":{"domain":["41.0–42.0","42.0–43.0","43.0–44.0","44.0–45.0","45.0–45.5"],"range":["#000000","#1c1ce0","#22e0ff","#6ee02c","#ee1a1a"]},"legend":null}}},
  {"data":{"name":"curve"},"transform":[{"filter":"datum.p=='COSMOS'"}],
   "mark":{"type":"line","color":"black","strokeWidth":1.5,"interpolate":"monotone"},
   "encoding":{
    "x":{"field":"z","type":"quantitative","scale":{"domain":[0.1,2.8],"nice":false,"zero":false},"axis":null},
    "y":{"field":"y","type":"quantitative","scale":{"domain":[42.5,47],"nice":false,"zero":false},"axis":null}}}
 ]},
{"width":186,"height":177,
 "title":{"text":"GOODS-S","anchor":"start","frame":"group","offset":-27,"dx":6,"fontSize":10.5,"fontWeight":400,"color":"black"},
 "resolve":{"axis":{"x":"independent","y":"independent"}},
 "layer":[
  {"data":{"name":"det"},"transform":[{"filter":"datum.p=='GOODS-S'"}],
   "mark":{"type":"point","filled":true,"size":20,"opacity":1,"shape":"circle"},
   "encoding":{
    "x":{"field":"z","type":"quantitative","scale":{"domain":[0.1,2.8],"nice":false,"zero":false},"axis":{"orient":"bottom","values":[0.2,0.3,0.4,0.5,0.6,0.7,0.8,0.9,1.0,1.1,1.2,1.3,1.4,1.5,1.6,1.7,1.8,1.9,2.0,2.1,2.2,2.3,2.4,2.5,2.6,2.7],"tickDash":{"condition":{"test":"abs(datum.value*2-round(datum.value*2))<0.01","value":[]},"value":[3.5,20]},"labelExpr":"abs(datum.value*2-round(datum.value*2))<0.01 ? format(datum.value,'.1f') : ''","labelFlush":false,"title":"Redshift"}},
    "y":{"field":"y","type":"quantitative","scale":{"domain":[42.5,47],"nice":false,"zero":false},"axis":{"orient":"left","values":[42.75,43,43.25,43.5,43.75,44,44.25,44.5,44.75,45,45.25,45.5,45.75,46,46.25,46.5,46.75,47],"tickDash":{"condition":{"test":"abs(datum.value-round(datum.value))<0.01","value":[]},"value":[3.5,20]},"labels":false,"title":null}},
    "color":{"field":"b","type":"nominal","scale":{"domain":["41.0–42.0","42.0–43.0","43.0–44.0","44.0–45.0","45.0–45.5"],"range":["#000000","#1c1ce0","#22e0ff","#6ee02c","#ee1a1a"]},"legend":null}}},
  {"data":{"name":"stk"},"transform":[{"filter":"datum.p=='GOODS-S'"}],
   "mark":{"type":"point","filled":false,"size":120,"strokeWidth":1.3,"opacity":1,"shape":"M-1,0L1,0M0,-1L0,1M-0.7,-0.7L0.7,0.7M-0.7,0.7L0.7,-0.7"},
   "encoding":{
    "x":{"field":"z","type":"quantitative","scale":{"domain":[0.1,2.8],"nice":false,"zero":false},"axis":{"orient":"top","values":[0.2,0.3,0.4,0.5,0.6,0.7,0.8,0.9,1.0,1.1,1.2,1.3,1.4,1.5,1.6,1.7,1.8,1.9,2.0,2.1,2.2,2.3,2.4,2.5,2.6,2.7],"tickDash":{"condition":{"test":"abs(datum.value*2-round(datum.value*2))<0.01","value":[]},"value":[3.5,20]},"labels":false,"title":null}},
    "y":{"field":"y","type":"quantitative","scale":{"domain":[42.5,47],"nice":false,"zero":false},"axis":{"orient":"right","values":[42.75,43,43.25,43.5,43.75,44,44.25,44.5,44.75,45,45.25,45.5,45.75,46,46.25,46.5,46.75,47],"tickDash":{"condition":{"test":"abs(datum.value-round(datum.value))<0.01","value":[]},"value":[3.5,20]},"labels":false,"title":null}},
    "color":{"field":"b","type":"nominal","scale":{"domain":["41.0–42.0","42.0–43.0","43.0–44.0","44.0–45.0","45.0–45.5"],"range":["#000000","#1c1ce0","#22e0ff","#6ee02c","#ee1a1a"]},"legend":null}}},
  {"data":{"name":"curve"},"transform":[{"filter":"datum.p=='GOODS-S'"}],
   "mark":{"type":"line","color":"black","strokeWidth":1.5,"interpolate":"monotone"},
   "encoding":{
    "x":{"field":"z","type":"quantitative","scale":{"domain":[0.1,2.8],"nice":false,"zero":false},"axis":null},
    "y":{"field":"y","type":"quantitative","scale":{"domain":[42.5,47],"nice":false,"zero":false},"axis":null}}}
 ]},
{"width":186,"height":177,
 "title":{"text":"GOODS-N","anchor":"start","frame":"group","offset":-27,"dx":6,"fontSize":10.5,"fontWeight":400,"color":"black"},
 "resolve":{"axis":{"x":"independent","y":"independent"}},
 "layer":[
  {"data":{"name":"det"},"transform":[{"filter":"datum.p=='GOODS-N'"}],
   "mark":{"type":"point","filled":true,"size":20,"opacity":1,"shape":"circle"},
   "encoding":{
    "x":{"field":"z","type":"quantitative","scale":{"domain":[0.1,2.8],"nice":false,"zero":false},"axis":{"orient":"bottom","values":[0.2,0.3,0.4,0.5,0.6,0.7,0.8,0.9,1.0,1.1,1.2,1.3,1.4,1.5,1.6,1.7,1.8,1.9,2.0,2.1,2.2,2.3,2.4,2.5,2.6,2.7],"tickDash":{"condition":{"test":"abs(datum.value*2-round(datum.value*2))<0.01","value":[]},"value":[3.5,20]},"labelExpr":"abs(datum.value*2-round(datum.value*2))<0.01 ? format(datum.value,'.1f') : ''","labelFlush":false,"title":"Redshift"}},
    "y":{"field":"y","type":"quantitative","scale":{"domain":[42.5,47],"nice":false,"zero":false},"axis":{"orient":"left","values":[42.75,43,43.25,43.5,43.75,44,44.25,44.5,44.75,45,45.25,45.5,45.75,46,46.25,46.5,46.75,47],"tickDash":{"condition":{"test":"abs(datum.value-round(datum.value))<0.01","value":[]},"value":[3.5,20]},"labels":false,"title":null}},
    "color":{"field":"b","type":"nominal","scale":{"domain":["41.0–42.0","42.0–43.0","43.0–44.0","44.0–45.0","45.0–45.5"],"range":["#000000","#1c1ce0","#22e0ff","#6ee02c","#ee1a1a"]},"legend":null}}},
  {"data":{"name":"stk"},"transform":[{"filter":"datum.p=='GOODS-N'"}],
   "mark":{"type":"point","filled":false,"size":120,"strokeWidth":1.3,"opacity":1,"shape":"M-1,0L1,0M0,-1L0,1M-0.7,-0.7L0.7,0.7M-0.7,0.7L0.7,-0.7"},
   "encoding":{
    "x":{"field":"z","type":"quantitative","scale":{"domain":[0.1,2.8],"nice":false,"zero":false},"axis":{"orient":"top","values":[0.2,0.3,0.4,0.5,0.6,0.7,0.8,0.9,1.0,1.1,1.2,1.3,1.4,1.5,1.6,1.7,1.8,1.9,2.0,2.1,2.2,2.3,2.4,2.5,2.6,2.7],"tickDash":{"condition":{"test":"abs(datum.value*2-round(datum.value*2))<0.01","value":[]},"value":[3.5,20]},"labels":false,"title":null}},
    "y":{"field":"y","type":"quantitative","scale":{"domain":[42.5,47],"nice":false,"zero":false},"axis":{"orient":"right","values":[42.75,43,43.25,43.5,43.75,44,44.25,44.5,44.75,45,45.25,45.5,45.75,46,46.25,46.5,46.75,47],"tickDash":{"condition":{"test":"abs(datum.value-round(datum.value))<0.01","value":[]},"value":[3.5,20]},"labels":false,"title":null}},
    "color":{"field":"b","type":"nominal","scale":{"domain":["41.0–42.0","42.0–43.0","43.0–44.0","44.0–45.0","45.0–45.5"],"range":["#000000","#1c1ce0","#22e0ff","#6ee02c","#ee1a1a"]},"legend":null}}},
  {"data":{"name":"curve"},"transform":[{"filter":"datum.p=='GOODS-N'"}],
   "mark":{"type":"line","color":"black","strokeWidth":1.5,"interpolate":"monotone"},
   "encoding":{
    "x":{"field":"z","type":"quantitative","scale":{"domain":[0.1,2.8],"nice":false,"zero":false},"axis":null},
    "y":{"field":"y","type":"quantitative","scale":{"domain":[42.5,47],"nice":false,"zero":false},"axis":null}}}
 ]}
]
}
